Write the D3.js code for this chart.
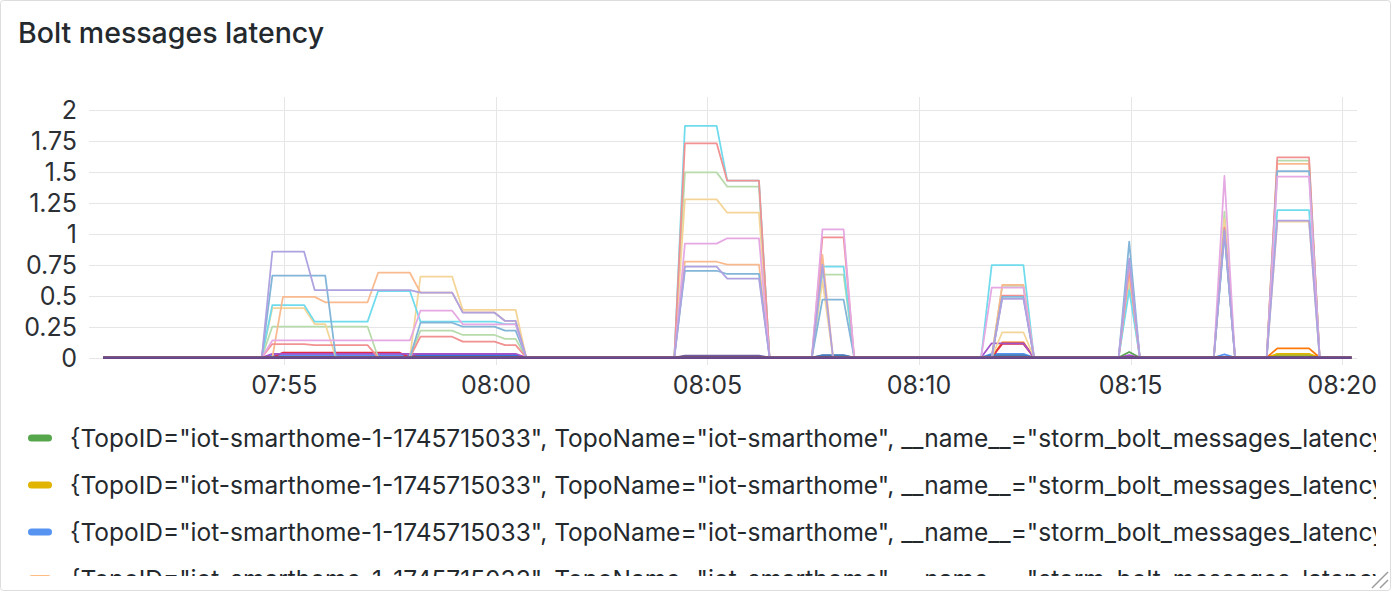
<!DOCTYPE html>
<html><head><meta charset="utf-8">
<script src="https://cdn.jsdelivr.net/npm/d3@7"></script>
<style>
html,body{margin:0;padding:0;background:#fff;width:1392px;height:592px;overflow:hidden;}
svg{display:block;font-family:Inter,"Noto Sans",sans-serif;}
</style></head>
<body>
<script>
// ---------- data ----------
const title = "Bolt messages latency";
const startTime = new Date(2025, 3, 27, 7, 50, 43);   // first sample
const stepSeconds = 15;
const sampleCount = 119;
const xTickLabels = ["07:55", "08:00", "08:05", "08:10", "08:15", "08:20"];
const yTickValues = [0, 0.25, 0.5, 0.75, 1, 1.25, 1.5, 1.75, 2];

// palette (Grafana classic, light theme)
const seriesColors = ["#56A64B","#E0B400","#5794F2","#FF780A","#E02F44","#3274D9","#A352CC","#705DA0",
  "#37872D","#F2CC0C","#447EBC","#C15C17","#890F02","#0A437C","#6D1F62","#584477",
  "#B7DBAB","#F4D598","#70DBED","#F9BA8F","#F29191","#82B5D8","#E5A8E2","#AEA2E0",
  "#629E51","#E5AC0E","#64B0C8","#E0752D","#BF1B00","#0A50A1","#962D82","#614D93"];

// each series: runs of [fromIndex, toIndex, value]; unlisted samples read 0
const sGreen   = [[17,38,0.01],[97,97,0.045],[111,114,0.02]];
const sYellow  = [[85,87,0.015],[111,114,0.03]];
const sBlue    = [[16,39,0.02],[84,87,0.03],[106,106,0.025]];
const sOrange  = [[85,87,0.123],[111,114,0.074]];
const sRed     = [[17,28,0.04],[30,38,0.03],[85,87,0.11]];
const sOcean   = [[30,39,0.02],[55,62,0.01]];
const sPurple  = [[16,39,0.03],[84,87,0.115],[97,97,0.02]];
const sViolet  = [[55,62,0.015],[68,70,0.015]];
const sDkGreen = [];
const sSand    = [[111,114,0.01]];
const sSteel   = [[68,70,0.02],[84,87,0.02]];
const sRust    = [], sMaroon = [], sNavy = [], sPlum = [], sGrape = [];
const sPaleGreen  = [[16,25,0.25],[30,33,0.217],[34,37,0.182],[38,39,0.15],[55,58,1.496],[59,62,1.38],
                     [68,70,0.669],[85,87,0.578],[97,97,0.6],[106,106,1.178],[111,114,1.59]];
const sPaleYellow = [[16,19,0.40],[20,21,0.27],[30,33,0.653],[34,39,0.384],[55,58,1.278],[59,62,1.17],
                     [68,68,0.62],[85,87,0.204],[97,97,0.65],[106,106,1.12],[111,114,1.098]];
const sCyan       = [[16,19,0.424],[20,25,0.29],[26,29,0.537],[30,37,0.29],[38,39,0.27],[55,58,1.871],
                     [59,62,1.429],[68,70,0.734],[84,87,0.747],[97,97,0.545],[106,106,1.0],[111,114,1.19]];
const sPeach      = [[17,20,0.49],[21,25,0.446],[26,29,0.685],[30,33,0.524],[34,37,0.365],[38,39,0.295],
                     [55,58,0.774],[59,62,0.75],[68,68,0.83],[85,87,0.586],[97,97,0.7],[106,106,1.05],[111,114,1.564]];
const sSalmon     = [[16,19,0.109],[20,25,0.10],[30,33,0.168],[34,37,0.128],[38,39,0.10],[55,58,1.731],
                     [59,62,1.429],[68,70,0.971],[85,87,0.5],[97,97,0.72],[106,106,1.05],[111,114,1.618]];
const sSkyBlue    = [[16,21,0.661],[30,33,0.281],[34,37,0.249],[38,39,0.217],[55,58,0.701],[59,62,0.675],
                     [68,70,0.467],[85,87,0.49],[97,97,0.936],[106,106,1.0],[111,114,1.507]];
const sPink       = [[16,29,0.138],[30,33,0.378],[34,39,0.268],[55,58,0.92],[59,62,0.963],[68,70,1.036],
                     [84,87,0.564],[97,97,0.78],[106,106,1.467],[111,114,1.461]];
const sLavender   = [[16,19,0.855],[20,29,0.545],[30,33,0.524],[34,37,0.362],[38,39,0.295],[55,58,0.734],
                     [59,62,0.637],[68,68,0.75],[85,87,0.473],[97,97,0.8],[106,106,1.03],[111,114,1.106]];
const sExtra = [[],[],[],[],[],[],[],[]];

const seriesRuns = [sGreen,sYellow,sBlue,sOrange,sRed,sOcean,sPurple,sViolet,sDkGreen,sSand,sSteel,
  sRust,sMaroon,sNavy,sPlum,sGrape,sPaleGreen,sPaleYellow,sCyan,sPeach,sSalmon,sSkyBlue,sPink,sLavender,...sExtra];

const legendRowsShown = 4;   // the panel only has room for these rows
const legendLabel = '{TopoID="iot-smarthome-1-1745715033", TopoName="iot-smarthome", __name__="storm_bolt_messages_latency"}';

// ---------- build ----------
const times = d3.range(sampleCount).map(i => new Date(+startTime + i * stepSeconds * 1000));
const series = seriesRuns.map((runs, k) => {
  const v = new Array(sampleCount).fill(0);
  runs.forEach(([a, b, val]) => { for (let i = a; i <= b; i++) v[i] = val; });
  return {color: seriesColors[k], values: v, label: legendLabel};
});

const W = 1392, H = 592;
const plot = {left: 89, right: 1357, top: 97, bottom: 365};

const x = d3.scaleTime()
  .domain([new Date(2025, 3, 27, 7, 50, 23), new Date(2025, 3, 27, 8, 20, 21)])
  .range([plot.left, plot.right]);
const y = d3.scaleLinear().domain([0, 2]).range([357.5, 110]);

const svg = d3.select("body").append("svg").attr("width", W).attr("height", H);

// panel
svg.append("rect").attr("x", 0.5).attr("y", 0.5).attr("width", W - 2).attr("height", H - 2)
  .attr("rx", 3).attr("fill", "#fff").attr("stroke", "#DCDDDF");

svg.append("text").attr("x", 18).attr("y", 43).attr("font-size", 28.5).attr("font-weight", 500)
  .attr("fill", "#24292E").text(title);

// grid
const xTicks = xTickLabels.map(s => { const [h, m] = s.split(":").map(Number); return new Date(2025, 3, 27, h, m, 0); });
const grid = svg.append("g").attr("stroke", "#E6E6E8").attr("stroke-width", 1);
grid.selectAll(".gy").data(yTickValues).join("line")
  .attr("x1", plot.left).attr("x2", plot.right)
  .attr("y1", d => Math.round(y(d)) + 0.5).attr("y2", d => Math.round(y(d)) + 0.5);
grid.selectAll(".gx").data(xTicks).join("line")
  .attr("y1", plot.top).attr("y2", plot.bottom)
  .attr("x1", d => Math.round(x(d)) + 0.5).attr("x2", d => Math.round(x(d)) + 0.5);

// axes labels
const fmtY = d3.format("~g");
svg.append("g").selectAll("text").data(yTickValues).join("text")
  .attr("x", 77).attr("y", d => y(d)).attr("dy", "0.36em").attr("text-anchor", "end")
  .attr("font-size", 25).attr("fill", "#2C3035").text(d => fmtY(d));
svg.append("g").selectAll("text").data(xTicks).join("text")
  .attr("x", d => x(d)).attr("y", 394).attr("text-anchor", "middle")
  .attr("font-size", 25).attr("fill", "#2C3035").text((d, i) => xTickLabels[i]);

// lines
const line = d3.line().x((d, i) => x(times[i])).y(d => y(d));
svg.append("g").attr("fill", "none").attr("stroke-width", 1.75).attr("stroke-linejoin", "round")
  .selectAll("path").data(series).join("path")
  .attr("stroke", d => d.color).attr("d", d => line(d.values));

// legend (clipped like the panel's scroll area)
svg.append("clipPath").attr("id", "legclip").append("rect")
  .attr("x", 0).attr("y", 405).attr("width", 1376).attr("height", 171);
const leg = svg.append("g").attr("clip-path", "url(#legclip)");
const rows = leg.selectAll("g").data(series.slice(0, legendRowsShown)).join("g")
  .attr("transform", (d, i) => `translate(0,${438 + i * 47})`);
rows.append("rect").attr("x", 28).attr("y", -3.5).attr("width", 24).attr("height", 7).attr("rx", 3.5)
  .attr("fill", d => d.color);
rows.append("text").attr("x", 70).attr("y", 0).attr("dy", "0.36em").attr("font-size", 24.5)
  .attr("fill", "#24292E").text(d => d.label);

// resize handle
const rh = svg.append("g").attr("stroke", "#9A9A9A").attr("stroke-width", 1.5);
rh.append("line").attr("x1", 1372).attr("y1", 588).attr("x2", 1388).attr("y2", 572);
rh.append("line").attr("x1", 1380).attr("y1", 588).attr("x2", 1388).attr("y2", 580);
</script>
</body></html>
